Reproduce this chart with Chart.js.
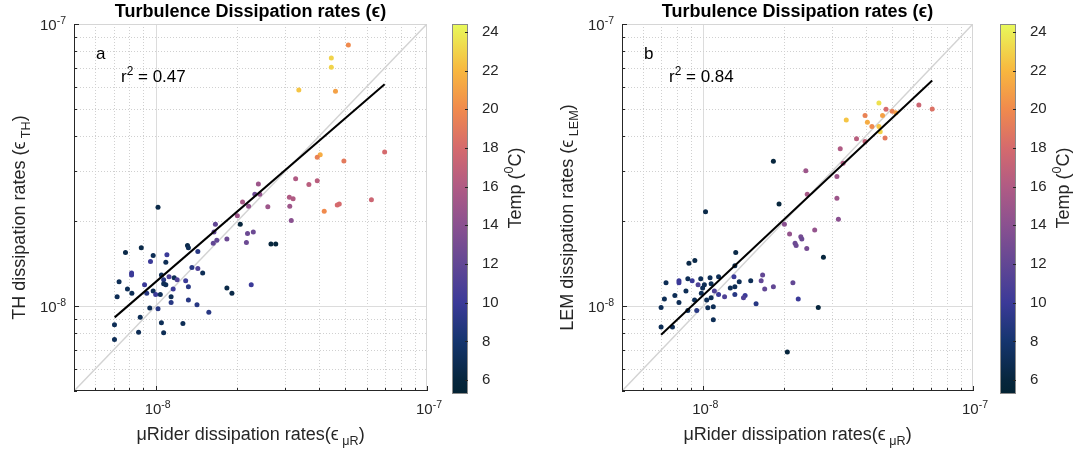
<!DOCTYPE html>
<html>
<head>
<meta charset="utf-8">
<script src="https://cdn.jsdelivr.net/npm/chart.js@4.4.1/dist/chart.umd.min.js"></script>
<style>
  body { margin: 0; background: #fff; }
  #wrap { position: relative; width: 1074px; height: 459px; overflow: hidden; }
  canvas { position: absolute; top: 0; }
</style>
</head>
<body>
<div id="wrap">
  <canvas id="panelA" width="452" height="459" style="left:0px"></canvas>
  <canvas id="cbarA" width="100" height="459" style="left:440px"></canvas>
  <canvas id="panelB" width="452" height="459" style="left:548px"></canvas>
  <canvas id="cbarB" width="86" height="459" style="left:988px"></canvas>
</div>
<script>
// values are in units of 1e-9 W/kg
const SCALE = 1e-9;

// panel a : uRider vs TH
const muRiderA = [51.3,44.4,44.4,33.7,46.0,40.4,39.4,49.4,69.8,32.8,39.4,36.7,23.9,23.2,24.2,31.1,32.1,62.4,47.5,46.7,
  41.8,31.2,25.9,22.0,20.9,31.6,20.0,20.5,16.6,16.4,18.3,16.8,16.3,21.8,22.9,21.6,26.6,27.7,10.2,13.1,
  13.2,14.3,7.74,8.85,9.79,11.0,9.57,10.9,13.6,14.3,14.9,8.15,8.15,10.5,11.2,11.7,12.0,10.7,10.9,10.7,
  12.9,13.2,11.6,7.33,9.10,7.87,9.27,8.17,9.79,10.0,10.4,7.21,11.4,11.4,13.2,14.2,18.3,19.1,22.5,15.7,
  9.51,10.2,7.05,7.05,8.77,8.65,10.5,10.7,12.6];
const thA = [84.3,75.7,70.3,58.3,57.7,34.4,33.7,32.7,35.2,28.3,27.8,27.0,27.1,24.9,24.9,24.3,24.0,23.8,23.0,22.8,
  21.7,22.6,22.5,22.6,23.4,20.1,20.9,19.5,19.5,18.3,17.3,17.1,16.7,18.1,18.3,16.8,16.6,16.6,22.4,16.4,
  16.1,15.6,15.5,16.1,15.1,15.2,14.4,14.3,13.7,13.6,13.1,13.1,12.9,12.9,12.7,12.6,12.4,12.4,11.9,12.0,
  12.3,11.7,11.5,12.2,11.9,11.5,11.1,11.1,11.3,11.0,11.0,10.8,10.8,10.3,10.5,10.1,11.6,11.1,11.9,9.5,
  9.84,9.79,8.59,7.62,9.12,8.07,8.73,8.05,8.67];
const tempA = [20,23,23,22.5,21,21.5,19.5,19,18,16,16.5,16.5,15,12.5,14.5,16,16,17.5,18,18,
  20,15,15,14.5,15.5,14,15,6,12,12,12.5,12,12,12.5,12.5,12.5,6,6,6.5,6.5,
  7,9,6.5,6.5,7,10,10,7,9,11,7,10,10,7,11,7,11,9,7,7,
  10,9,10,7,10,7,9,7,7,10,7,7,7,9,9,9,6.5,6.5,10,9,
  7,9,7,7,7,7,7,7,7];
const fitXA = [7.06, 69.8];
const fitYA = [9.12, 61.1];

// panel b : uRider vs LEM
const muRiderB = [44.8,47.6,63.0,70.6,50.2,51.8,39.8,46.2,33.9,40.6,42.2,44.8,45.3,47.2,37.0,39.8,32.2,33.0,18.2,24.0,
  31.3,24.3,19.1,31.3,31.7,20.0,20.9,25.9,23.0,23.2,21.9,22.1,24.2,27.9,10.2,13.2,13.1,8.85,9.31,16.6,
  16.4,16.9,18.2,21.5,22.5,15.0,15.7,14.3,14.1,13.6,13.1,12.6,13.1,13.0,12.0,11.4,11.4,11.0,10.7,10.6,
  10.1,9.79,9.57,9.95,9.84,9.10,8.77,8.63,9.29,8.13,8.13,7.28,7.85,8.13,7.18,6.98,8.77,9.46,10.3,10.7,
  10.4,10.9,10.9,6.98,7.69,20.5,26.7];
const lemB = [52.5,49.9,51.6,50.0,49.1,48.5,47.4,47.4,45.7,44.8,43.3,43.3,41.5,39.4,39.2,38.3,36.1,32.1,32.6,30.2,
  28.8,24.9,23.0,24.1,20.3,19.5,18.0,18.6,17.6,17.3,16.7,16.4,16.0,14.9,21.6,15.5,13.9,14.2,14.5,12.9,
  12.3,11.5,11.7,12.1,10.6,12.3,10.2,10.9,10.7,12.2,11.7,11.6,11.0,12.7,10.8,12.7,11.0,11.3,12.0,12.6,
  11.9,12.5,11.9,11.6,11.1,12.3,12.5,11.3,10.5,12.3,12.1,12.1,10.9,10.3,10.6,9.89,9.64,9.64,10.5,10.7,
  9.86,9.95,8.95,8.43,8.43,6.87,9.89];
const tempB = [23.5,18,17.5,18.5,19.5,21,19.5,21,22.5,21.5,20,22.5,23,19,16.5,17,16,16,6,15,
  15,15.5,6,15,14,14,14.5,14.5,13,12.5,12.5,12.5,13,6,6.5,6.5,6.5,6.5,6.5,12,
  12,12,12,12,10,7,9,10,11,7,7,7,9,10,11,7,10,11,7,7,
  7,7,11,7,7,10,7,7,7,10,10,7,7,7,7,7,7,9,7,7,
  7,7,7,7,7,6,6];
const fitXB = [6.98, 70.6];
const fitYB = [7.91, 63.1];

const oneToOne = [5, 100];
const axisRange = [5, 100];
const gridVals = [5,6,7,8,9,10,20,30,40,50,60,70,80,90,100];
const r2Vals = ['0.47', '0.84'];

// colour bar
const tempRange = [5.28, 24.41];
const tempTicks = [6,8,10,12,14,16,18,20,22,24];
const thermalStops = [
  [5.28,'#042333'],[6,'#07263d'],[8,'#15356e'],[10,'#3b3a98'],[12,'#624794'],[14,'#8a5190'],
  [16,'#b05b84'],[18,'#d56a6d'],[20,'#f08a4d'],[22,'#f8b73f'],[24.41,'#e8fa5b']
];

const FONT = '"Liberation Sans", Arial, Helvetica, sans-serif';
const INK = '#262626';

function hexRgb(h){ return [1,3,5].map(i => parseInt(h.substr(i,2),16)); }
function thermal(t){
  const s = thermalStops;
  if (t <= s[0][0]) return s[0][1];
  for (let i = 1; i < s.length; i++){
    if (t <= s[i][0]){
      const f = (t - s[i-1][0]) / (s[i][0] - s[i-1][0]);
      const a = hexRgb(s[i-1][1]), b = hexRgb(s[i][1]);
      return 'rgb(' + a.map((v,k) => Math.round(v + (b[k]-v)*f)).join(',') + ')';
    }
  }
  return s[s.length-1][1];
}

// parts: [text, 0 normal | 1 subscript | 2 superscript]
function drawRich(ctx, parts, x, y, size, align){
  let w = 0;
  parts.forEach(p => { ctx.font = (p[1] ? size*0.7 : size) + 'px ' + FONT; w += ctx.measureText(p[0]).width; });
  let cx = align === 'center' ? x - w/2 : (align === 'right' ? x - w : x);
  ctx.textAlign = 'left';
  ctx.textBaseline = 'alphabetic';
  parts.forEach(p => {
    const s = p[1] ? size*0.7 : size;
    ctx.font = s + 'px ' + FONT;
    const dy = p[1] === 1 ? size*0.3 : (p[1] === 2 ? -size*0.42 : 0);
    ctx.fillText(p[0], cx, y + dy);
    cx += ctx.measureText(p[0]).width;
  });
}

const isDecade = v => Math.abs(Math.log10(v) - Math.round(Math.log10(v))) < 1e-6;
function decadeParts(v){ return [['10',0],[String(Math.round(Math.log10(v))),2]]; }

const axesPlugin = {
  id: 'axesDecor',
  beforeDatasetsDraw(chart){
    const {ctx, chartArea: a, scales: {x, y}} = chart;
    ctx.save();
    ctx.lineWidth = 1;
    x.ticks.forEach(t => {
      const px = Math.round(x.getPixelForValue(t.value)) + 0.5;
      if (px <= a.left + 1 || px >= a.right - 1) return;
      ctx.strokeStyle = isDecade(t.value) ? '#dcdcdc' : '#d0d0d0';
      ctx.setLineDash(isDecade(t.value) ? [] : [1, 2]);
      ctx.beginPath(); ctx.moveTo(px, a.top); ctx.lineTo(px, a.bottom); ctx.stroke();
    });
    y.ticks.forEach(t => {
      const py = Math.round(y.getPixelForValue(t.value)) + 0.5;
      if (py <= a.top + 1 || py >= a.bottom - 1) return;
      ctx.strokeStyle = isDecade(t.value) ? '#dcdcdc' : '#d0d0d0';
      ctx.setLineDash(isDecade(t.value) ? [] : [1, 2]);
      ctx.beginPath(); ctx.moveTo(a.left, py); ctx.lineTo(a.right, py); ctx.stroke();
    });
    ctx.setLineDash([]);
    ctx.strokeStyle = '#d6d6d6';
    ctx.beginPath();
    ctx.moveTo(a.left, a.top + 0.5); ctx.lineTo(a.right - 0.5, a.top + 0.5); ctx.lineTo(a.right - 0.5, a.bottom);
    ctx.stroke();
    ctx.restore();
  },
  afterDatasetsDraw(chart, args, opts){
    const {ctx, chartArea: a, scales: {x, y}} = chart;
    ctx.save();
    ctx.strokeStyle = INK;
    ctx.lineWidth = 1;
    ctx.beginPath();
    ctx.moveTo(a.left + 0.5, a.top); ctx.lineTo(a.left + 0.5, a.bottom - 0.5); ctx.lineTo(a.right, a.bottom - 0.5);
    x.ticks.forEach(t => {
      const px = Math.round(x.getPixelForValue(t.value)) + 0.5;
      const len = isDecade(t.value) ? 5 : 3;
      ctx.moveTo(px, a.bottom); ctx.lineTo(px, a.bottom - len);
    });
    y.ticks.forEach(t => {
      const py = Math.round(y.getPixelForValue(t.value)) + 0.5;
      const len = isDecade(t.value) ? 5 : 3;
      ctx.moveTo(a.left, py); ctx.lineTo(a.left + len, py);
    });
    ctx.stroke();

    ctx.fillStyle = INK;
    // decade tick labels
    x.ticks.filter(t => isDecade(t.value)).forEach(t => {
      drawRich(ctx, decadeParts(t.value), x.getPixelForValue(t.value) + 2, a.bottom + 23, 15, 'center');
    });
    y.ticks.filter(t => isDecade(t.value)).forEach(t => {
      drawRich(ctx, decadeParts(t.value), a.left - 8, y.getPixelForValue(t.value) + 6, 15, 'right');
    });
    // x title
    drawRich(ctx, [['μRider dissipation rates(ϵ',0],[' μR',1],[')',0]], (a.left + a.right)/2, 440, 18, 'center');
    // y title
    ctx.save();
    ctx.translate(a.left - 49, (a.top + a.bottom)/2 + 10);
    ctx.rotate(-Math.PI/2);
    drawRich(ctx, opts.yTitle, 0, 0, 18, 'center');
    ctx.restore();

    ctx.fillStyle = '#000';
    drawRich(ctx, [[opts.letter,0]], a.left + 22, a.top + 35, 17, 'left');
    drawRich(ctx, [['r',0],['2',2],[' = ' + opts.r2,0]], a.left + 47, a.top + 58, 17, 'left');
    ctx.restore();
  }
};

const colorbarPlugin = {
  id: 'colorbar',
  beforeDatasetsDraw(chart){
    const {ctx, chartArea: a, scales: {y}} = chart;
    ctx.save();
    const g = ctx.createLinearGradient(0, y.getPixelForValue(tempRange[0]), 0, y.getPixelForValue(tempRange[1]));
    thermalStops.forEach(s => g.addColorStop((s[0] - tempRange[0]) / (tempRange[1] - tempRange[0]), s[1]));
    ctx.fillStyle = g;
    ctx.fillRect(a.left, a.top, a.width, a.height);
    ctx.strokeStyle = '#8a8a8a';
    ctx.lineWidth = 1;
    ctx.strokeRect(a.left + 0.5, a.top + 0.5, a.width - 1, a.height - 1);
    ctx.strokeStyle = INK;
    ctx.beginPath();
    y.ticks.forEach(t => {
      const py = Math.round(y.getPixelForValue(t.value)) + 0.5;
      ctx.moveTo(a.right - 3, py); ctx.lineTo(a.right, py);
    });
    ctx.stroke();
    ctx.fillStyle = INK;
    ctx.translate(a.right + 53, 188);
    ctx.rotate(-Math.PI/2);
    drawRich(ctx, [['Temp (',0],['0',2],['C)',0]], 0, 0, 18, 'center');
    ctx.restore();
  }
};

function makePanel(id, xs, ys, temps, fitX, fitY, yTitle, letter, r2, padRight){
  const pts = xs.map((v, i) => ({x: v*SCALE, y: ys[i]*SCALE}));
  return new Chart(document.getElementById(id), {
    type: 'scatter',
    data: {
      datasets: [
        {data: fitX.map((v, i) => ({x: v*SCALE, y: fitY[i]*SCALE})), showLine: true, borderColor: '#000',
         borderWidth: 2, pointRadius: 0, order: 0},
        {data: pts, pointRadius: 2.5, pointBorderWidth: 0, pointBackgroundColor: temps.map(thermal),
         pointBorderColor: temps.map(thermal), order: 1},
        {data: oneToOne.map(v => ({x: v*SCALE, y: v*SCALE})), showLine: true, borderColor: '#d3d3d3',
         borderWidth: 1.5, pointRadius: 0, order: 2}
      ]
    },
    options: {
      responsive: false,
      animation: false,
      layout: {padding: {left: 0, right: padRight, top: 0, bottom: 0}},
      plugins: {
        legend: {display: false},
        tooltip: {enabled: false},
        title: {display: true, fullSize: false, text: 'Turbulence Dissipation rates (ϵ)', color: '#000',
                font: {family: FONT, size: 18, weight: 'bold', lineHeight: 1.2}, padding: {top: 1, bottom: 1.4}},
        axesDecor: {yTitle: yTitle, letter: letter, r2: r2}
      },
      scales: {
        x: {
          type: 'logarithmic', min: axisRange[0]*SCALE, max: axisRange[1]*SCALE,
          afterBuildTicks: s => { s.ticks = gridVals.map(v => ({value: v*SCALE})); },
          ticks: {display: false},
          grid: {display: false}, border: {display: false},
          afterFit: s => { s.height = 68; s.paddingLeft = 0; s.paddingRight = 0; }
        },
        y: {
          type: 'logarithmic', min: axisRange[0]*SCALE, max: axisRange[1]*SCALE,
          afterBuildTicks: s => { s.ticks = gridVals.map(v => ({value: v*SCALE})); },
          ticks: {display: false},
          grid: {display: false}, border: {display: false},
          afterFit: s => { s.width = 74; s.paddingTop = 0; s.paddingBottom = 0; }
        }
      }
    },
    plugins: [axesPlugin]
  });
}

function makeColorbar(id, axisWidth){
  return new Chart(document.getElementById(id), {
    type: 'scatter',
    data: {datasets: []},
    options: {
      responsive: false,
      animation: false,
      layout: {padding: {left: 12, right: 0, top: 24, bottom: 65}},
      plugins: {legend: {display: false}, tooltip: {enabled: false}},
      scales: {
        x: {display: false},
        y: {
          position: 'right', min: tempRange[0], max: tempRange[1],
          afterBuildTicks: s => { s.ticks = tempTicks.map(v => ({value: v})); },
          ticks: {color: INK, padding: 6, font: {family: FONT, size: 15}},
          grid: {display: false}, border: {display: false},
          afterFit: s => { s.width = axisWidth; s.paddingTop = 0; s.paddingBottom = 0; }
        }
      }
    },
    plugins: [colorbarPlugin]
  });
}

makePanel('panelA', muRiderA, thA, tempA, fitXA, fitYA,
  [['TH dissipation rates (ϵ',0],[' TH',1],[')',0]], 'a', r2Vals[0], 25);
makeColorbar('cbarA', 72);
makePanel('panelB', muRiderB, lemB, tempB, fitXB, fitYB,
  [['LEM dissipation rates (ϵ',0],[' LEM',1],[')',0]], 'b', r2Vals[1], 27);
makeColorbar('cbarB', 58);
</script>
</body>
</html>
